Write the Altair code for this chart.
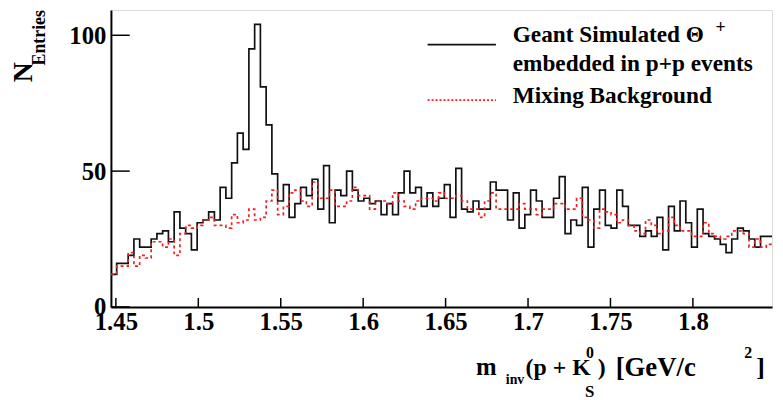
import altair as alt
import pandas as pd

# ---- data -----------------------------------------------------------------
signal = [12, 16, 16, 19, 25, 22, 22, 25, 27, 28, 24, 35, 29, 27, 21, 31, 32, 35, 32, 44,
          40, 53, 64, 58, 95, 104, 81, 67, 49, 39, 45, 33, 38, 44, 41, 47, 36, 52, 31, 43,
          41, 50, 43, 39, 40, 38, 39, 34, 38, 34, 42, 50, 42, 44, 37, 42, 37, 40, 45, 33,
          51, 36, 35, 39, 36, 36, 46, 43, 43, 32, 42, 29, 34, 43, 39, 33, 33, 40, 48, 27,
          32, 30, 44, 22, 36, 43, 30, 29, 43, 37, 30, 30, 26, 28, 26, 33, 21, 37, 28, 39,
          31, 22, 36, 27, 26, 25, 23, 20, 25, 29, 28, 25, 22, 26, 26]
background = [12, 15, 15, 20, 15, 19, 18, 24, 24, 22, 25, 19, 27, 30, 29, 30, 32, 33, 30, 30,
              29, 34, 31, 32, 36, 32, 33, 39, 43, 34, 37, 42, 43, 39, 37, 46, 40, 40, 43, 37,
              37, 39, 44, 41, 41, 36, 39, 39, 38, 42, 39, 37, 36, 39, 40, 40, 39, 42, 40, 40,
              41, 39, 36, 36, 33, 39, 42, 36, 36, 36, 36, 38, 36, 36, 34, 36, 36, 38, 38, 36,
              36, 40, 33, 32, 29, 36, 35, 34, 31, 32, 30, 28, 27, 32, 30, 27, 28, 33, 30, 28,
              28, 26, 26, 31, 27, 26, 25, 26, 28, 28, 27, 22, 25, 22, 23]
x_range = [1.447, 1.848]
y_range = [0, 109.3]
x_ticks = [1.45, 1.5, 1.55, 1.6, 1.65, 1.7, 1.75, 1.8]
y_ticks = [0, 50, 100]

n_bins = len(signal)
bw = (x_range[1] - x_range[0]) / n_bins
edges = [x_range[0] + i * bw for i in range(n_bins + 1)]
df = pd.DataFrame({
    "x": edges,
    "signal": signal + [signal[-1]],
    "background": background + [background[-1]],
})

W, H = 668, 300
FONT = "Liberation Serif"

xs = alt.Scale(domain=x_range, nice=False, zero=False)
ys = alt.Scale(domain=y_range, nice=False, zero=False)

xaxis = alt.Axis(values=x_ticks, format="~g", ticks=False, grid=False, domain=True,
                 domainColor="black", domainWidth=2, labelFont=FONT, labelFontSize=25,
                 labelFontWeight="bold", labelColor="black", labelPadding=3, title=None,
                 labelFlush=False)
yaxis = alt.Axis(values=y_ticks, ticks=False, grid=False, domain=True,
                 domainColor="black", domainWidth=2, labelFont=FONT, labelFontSize=25,
                 labelFontWeight="bold", labelColor="black", labelPadding=5, title=None)

base = alt.Chart(df)
sig = base.mark_line(interpolate="step-after", color="#111111", strokeWidth=1.7, clip=True).encode(
    x=alt.X("x:Q", scale=xs, axis=xaxis),
    y=alt.Y("signal:Q", scale=ys, axis=yaxis),
)
bkg = base.mark_line(interpolate="step-after", color="#f02020", strokeWidth=1.7,
                     strokeDash=[3, 3], clip=True).encode(
    x=alt.X("x:Q", scale=xs),
    y=alt.Y("background:Q", scale=ys),
)

yt = alt.Chart(pd.DataFrame({"v": y_ticks})).mark_rule(color="black", strokeWidth=1.5).encode(
    y=alt.Y("v:Q", scale=ys), x=alt.value(0), x2=alt.value(19))
xt = alt.Chart(pd.DataFrame({"v": x_ticks})).mark_rule(color="black", strokeWidth=1.5).encode(
    x=alt.X("v:Q", scale=xs), y=alt.value(H), y2=alt.value(H - 9))

one = pd.DataFrame({"a": [0]})


def txt(s, x, y, size, angle=0, color="black"):
    return alt.Chart(one).mark_text(text=s, font=FONT, fontSize=size, fontWeight="bold",
                                    color=color, align="left", baseline="alphabetic",
                                    angle=angle).encode(x=alt.value(x), y=alt.value(y))


def seg(x1, x2, y, color, dash=None):
    kw = dict(color=color, strokeWidth=1.7)
    if dash:
        kw["strokeDash"] = dash
    return alt.Chart(one).mark_rule(**kw).encode(x=alt.value(x1), x2=alt.value(x2), y=alt.value(y))


legend = [
    seg(320, 389, 35, "#111111"),
    seg(320, 389, 91, "#f02020", [2, 2]),
    txt("Geant Simulated \u0398", 406, 32, 23.5),
    txt("+", 611, 23, 18),
    txt("embedded in p+p events", 406, 62, 23.5),
    txt("Mixing Background", 406, 94, 23.5),
]

ytitle = [
    txt("N", -80, 73, 28, angle=270),
    txt("Entries", -67, 56, 18, angle=270),
]

xtitle = [
    txt("m", 369, 369, 25),
    txt("inv", 399, 378, 14),
    txt("(p + K", 419, 369, 24),
    txt("0", 480, 352, 16),
    txt("S", 479, 391, 17),
    txt(")", 492, 369, 24),
    txt("[GeV/c", 510, 370, 27),
    txt("2", 640, 352, 16),
    txt("]", 652, 370, 26),
]

chart = alt.layer(sig, bkg, yt, xt, *legend, *ytitle, *xtitle).properties(
    width=W, height=H,
    autosize=alt.AutoSizeParams(type="none"),
    padding={"left": 104, "top": 0, "right": 3, "bottom": 92},
).configure_view(stroke="black", strokeWidth=2).configure(background="white")

chart.save("out.html", embed_options={"renderer": "svg", "actions": False})
